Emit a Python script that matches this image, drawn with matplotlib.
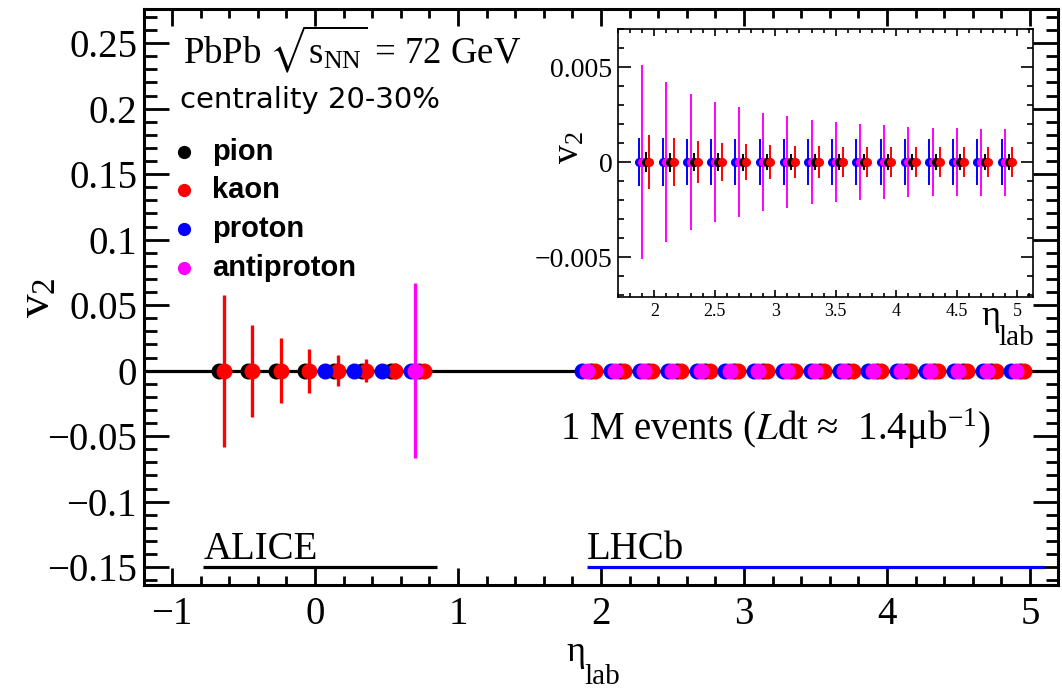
import numpy as np
import matplotlib.pyplot as plt
from matplotlib.ticker import MultipleLocator, FuncFormatter

plt.rcParams['font.family'] = ['Liberation Serif', 'DejaVu Serif']
plt.rcParams['mathtext.fontset'] = 'stix'

# eta bin centres for the two acceptances
eta_alice = [-0.7, -0.5, -0.3, -0.1, 0.1, 0.3, 0.5, 0.7]
eta_alice_p = [0.1, 0.3, 0.5, 0.7]
eta_alice_pbar = [0.7]
eta_lhcb = [1.9, 2.1, 2.3, 2.5, 2.7, 2.9, 3.1, 3.3, 3.5, 3.7, 3.9, 4.1, 4.3, 4.5, 4.7, 4.9]

# projected v2 (centred on zero) and statistical errors
pion_alice_v2 = [0, 0, 0, 0, 0, 0, 0, 0]
pion_alice_err = [0.004, 0.004, 0.004, 0.004, 0.003, 0.003, 0.003, 0.003]
kaon_alice_v2 = [0, 0, 0, 0, 0, 0, 0, 0]
kaon_alice_err = [0.058, 0.035, 0.025, 0.0167, 0.012, 0.0087, 0.006, 0.004]
proton_alice_v2 = [0, 0, 0, 0]
proton_alice_err = [0.002, 0.002, 0.002, 0.002]
pbar_alice_v2 = [0]
pbar_alice_err = [0.0667]

pion_lhcb_v2 = [0, 0, 0, 0, 0, 0, 0, 0, 0, 0, 0, 0, 0, 0, 0, 0]
pion_lhcb_err = [0.00053, 0.0005, 0.00048, 0.00046, 0.00045, 0.00044, 0.00043, 0.00042,
                 0.00042, 0.00041, 0.0004, 0.0004, 0.0004, 0.0004, 0.0004, 0.0004]
kaon_lhcb_v2 = [0, 0, 0, 0, 0, 0, 0, 0, 0, 0, 0, 0, 0, 0, 0, 0]
kaon_lhcb_err = [0.0014, 0.00125, 0.0011, 0.00102, 0.00095, 0.0009, 0.00086, 0.00084,
                 0.0008, 0.00079, 0.00077, 0.00077, 0.00077, 0.00077, 0.00077, 0.00077]
proton_lhcb_v2 = [0, 0, 0, 0, 0, 0, 0, 0, 0, 0, 0, 0, 0, 0, 0, 0]
proton_lhcb_err = [0.00127, 0.00124, 0.00123, 0.00122, 0.00122, 0.00121, 0.00121, 0.00121,
                   0.0012, 0.0012, 0.0012, 0.0012, 0.0012, 0.0012, 0.0012, 0.0012]
pbar_lhcb_v2 = [0, 0, 0, 0, 0, 0, 0, 0, 0, 0, 0, 0, 0, 0, 0, 0]
pbar_lhcb_err = [0.0051, 0.0042, 0.0036, 0.00316, 0.0029, 0.0026, 0.00242, 0.00223,
                 0.0021, 0.002, 0.00193, 0.00186, 0.00181, 0.00177, 0.00176, 0.00176]

species = ['pion', 'kaon', 'proton', 'antiproton']
colors = {'pion': 'black', 'kaon': '#ff0000', 'proton': '#0000ff', 'antiproton': '#ff00ff'}
shift = {'pion': 0.03, 'kaon': 0.06, 'proton': -0.03, 'antiproton': 0.0}

alice = {
    'pion': (eta_alice, pion_alice_v2, pion_alice_err),
    'kaon': (eta_alice, kaon_alice_v2, kaon_alice_err),
    'proton': (eta_alice_p, proton_alice_v2, proton_alice_err),
    'antiproton': (eta_alice_pbar, pbar_alice_v2, pbar_alice_err),
}
lhcb = {
    'pion': (eta_lhcb, pion_lhcb_v2, pion_lhcb_err),
    'kaon': (eta_lhcb, kaon_lhcb_v2, kaon_lhcb_err),
    'proton': (eta_lhcb, proton_lhcb_v2, proton_lhcb_err),
    'antiproton': (eta_lhcb, pbar_lhcb_v2, pbar_lhcb_err),
}


def fmt(v, pos):
    s = '%g' % round(v, 5)
    return s.replace('-', '\u2212')


def draw(ax, data, name, ms, lw):
    eta, v2, err = data[name]
    ax.errorbar(np.array(eta) + shift[name], v2, yerr=err, fmt='o', color=colors[name],
                ms=ms, mec=colors[name], elinewidth=lw, capsize=0, zorder=3)


def eta_label(ax, x, y, size, sub_size, sub_dy):
    # eta with a big, low-hanging "lab" subscript
    ax.set_xlabel('η', fontsize=size, ha='left')
    ax.xaxis.set_label_coords(x, y)
    ax.annotate('lab', xy=(1, 0), xycoords=ax.xaxis.label, xytext=(-1, sub_dy),
                textcoords='offset points', ha='left', va='top', fontsize=sub_size)


fig = plt.figure(figsize=(10.62, 6.91), dpi=100)
ax = fig.add_axes([0.1356, 0.1534, 0.8606, 0.8329])

ax.axhline(0, color='black', lw=2.3, zorder=2)
for name in species:
    draw(ax, alice, name, 10.5, 2.4)
    draw(ax, lhcb, name, 10.5, 2.4)

ax.set_xlim(-1.196, 5.196)
ax.set_ylim(-0.1636, 0.2757)
ax.xaxis.set_major_locator(MultipleLocator(1))
ax.xaxis.set_minor_locator(MultipleLocator(0.2))
ax.yaxis.set_major_locator(MultipleLocator(0.05))
ax.yaxis.set_minor_locator(MultipleLocator(0.01))
ax.xaxis.set_major_formatter(FuncFormatter(fmt))
ax.yaxis.set_major_formatter(FuncFormatter(fmt))
ax.tick_params(which='both', direction='in', top=True, right=True, width=2.0, labelsize=28)
ax.tick_params(axis='y', which='major', length=18, pad=5)
ax.tick_params(axis='y', which='minor', length=9)
ax.tick_params(axis='x', which='major', length=12, pad=8)
ax.tick_params(axis='x', which='minor', length=6.5)
for sp in ax.spines.values():
    sp.set_linewidth(2.2)

eta_label(ax, 0.4624, -0.088, 26, 21, 3)
ax.set_ylabel(r'$\mathregular{v_{2}}$', fontsize=34)
ax.yaxis.set_label_coords(-0.092, 0.5)

# header and annotations
ax.text(0.0427, 0.9065, r'PbPb $\sqrt{\mathregular{s_{NN}}}$ = 72 GeV', transform=ax.transAxes,
        fontsize=26.5, va='baseline')
ax.text(0.0394, 0.828, 'centrality 20-30%', transform=ax.transAxes, fontsize=21,
        family='DejaVu Sans', va='baseline')
leg_y = [0.7529, 0.6864, 0.6181, 0.5504]
for name, y in zip(species, leg_y):
    ax.plot([0.044], [y], 'o', color=colors[name], ms=8.5, transform=ax.transAxes)
    ax.text(0.074, y, name, transform=ax.transAxes, fontsize=21, family='Liberation Sans',
            weight='bold', va='center')

ax.text(0.455, 0.252, r'1 M events ($L$dt ≈  1.4μb$^{\mathregular{-1}}$)',
        transform=ax.transAxes, fontsize=28, va='baseline')

ax.plot([-0.78, 0.85], [-0.15, -0.15], color='black', lw=2.3, solid_capstyle='butt')
ax.plot([1.90, 5.10], [-0.15, -0.15], color='#0000ff', lw=2.3, solid_capstyle='butt')
ax.text(-0.78, -0.1437, 'ALICE', fontsize=28, va='baseline')
ax.text(1.90, -0.1437, 'LHCb', fontsize=28, va='baseline')

# zoom on the forward region
ins = fig.add_axes([0.5819, 0.5702, 0.3908, 0.3878])
for name in ['proton', 'antiproton', 'pion', 'kaon']:
    draw(ins, lhcb, name, 5.5, 1.4)
ins.set_xlim(1.70, 5.13)
ins.set_ylim(-0.0071, 0.0070)
ins.xaxis.set_major_locator(MultipleLocator(0.5))
ins.xaxis.set_minor_locator(MultipleLocator(0.1))
ins.yaxis.set_major_locator(MultipleLocator(0.005))
ins.yaxis.set_minor_locator(MultipleLocator(0.001))
ins.xaxis.set_major_formatter(FuncFormatter(fmt))
ins.yaxis.set_major_formatter(FuncFormatter(fmt))
ins.tick_params(which='both', direction='in', top=True, right=True, width=1.2)
ins.tick_params(axis='y', which='major', length=9, labelsize=20, pad=4)
ins.tick_params(axis='y', which='minor', length=4.5)
ins.tick_params(axis='x', which='major', length=5, labelsize=13, pad=4)
ins.tick_params(axis='x', which='minor', length=3)
for sp in ins.spines.values():
    sp.set_linewidth(1.2)
ins.set_ylabel(r'$\mathregular{v_{2}}$', fontsize=27)
ins.yaxis.set_label_coords(-0.075, 0.556)
eta_label(ins, 0.875, -0.011, 26, 21, 6)

fig.savefig('out.png', dpi=100)
